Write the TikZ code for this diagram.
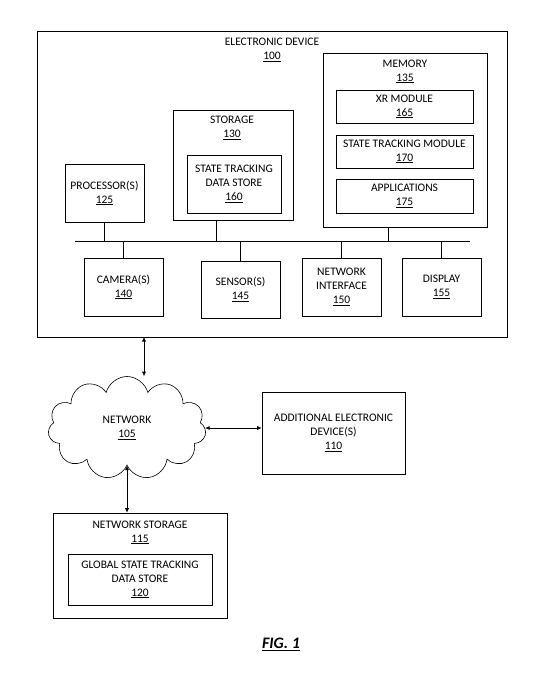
\documentclass[tikz,border=0pt]{standalone}
\usepackage{fontspec}
\setmainfont{Carlito}
\usetikzlibrary{shapes.symbols,arrows.meta}

\tikzset{
  blk/.style={draw, line width=0.6pt, align=center, inner sep=1pt},
  lbl/.style={align=center, inner sep=1pt},
  link/.style={line width=0.6pt},
  twoway/.style={line width=0.6pt, {Latex[length=4.5pt,width=4pt]}-{Latex[length=4.5pt,width=4pt]}}
}

\begin{document}
\begin{tikzpicture}[x=1pt,y=-1pt,font=\fontsize{11.5}{14}\selectfont]
\useasboundingbox (0,0) rectangle (545,677);

\node[blk, minimum width=470, minimum height=306] (dev) at (272,184) {};
\node[lbl] (devLbl) at (272,50) {ELECTRONIC DEVICE\\\underline{100}};

\node[blk, minimum width=79, minimum height=58] (proc) at (104.5,193) {PROCESSOR(S)\\\underline{125}};

\node[blk, minimum width=120, minimum height=110] (stor) at (233,165) {};
\node[lbl] (storLbl) at (232,128) {STORAGE\\\underline{130}};
\node[blk, minimum width=94, minimum height=58] (stds) at (234,184) {STATE TRACKING\\DATA STORE\\\underline{160}};

\node[blk, minimum width=164, minimum height=174] (mem) at (405,140) {};
\node[lbl] (memLbl) at (405,71.5) {MEMORY\\\underline{135}};
\node[blk, minimum width=137, minimum height=33] (xr) at (404.5,106.5) {XR MODULE\\\underline{165}};
\node[blk, minimum width=137, minimum height=33] (stm) at (404.5,151.5) {STATE TRACKING MODULE\\\underline{170}};
\node[blk, minimum width=137, minimum height=34] (apps) at (404.5,196) {APPLICATIONS\\\underline{175}};

\node[blk, minimum width=79, minimum height=58] (cam) at (123.5,287) {CAMERA(S)\\\underline{140}};
\node[blk, minimum width=79, minimum height=57] (sens) at (240.5,289.5) {SENSOR(S)\\\underline{145}};
\node[blk, minimum width=79, minimum height=58] (netif) at (341.5,287) {NETWORK\\INTERFACE\\\underline{150}};
\node[blk, minimum width=79, minimum height=58] (disp) at (441.5,287) {DISPLAY\\\underline{155}};

% bus
\coordinate (busL) at (75,241);
\coordinate (busR) at (470,241);
\coordinate (tapStor) at (216,241);
\coordinate (tapMem) at (388,241);
\draw[link] (busL) -- (busR);
\draw[link] (proc.south) -- (proc.south |- busL);
\draw[link] (tapStor) -- (tapStor |- stor.south);
\draw[link] (tapMem) -- (tapMem |- mem.south);
\draw[link] (cam.north) -- (cam.north |- busL);
\draw[link] (sens.north) -- (sens.north |- busL);
\draw[link] (netif.north) -- (netif.north |- busL);
\draw[link] (disp.north) -- (disp.north |- busL);

\node[cloud, draw, line width=0.6pt, cloud puffs=11, aspect=1.5, minimum width=158, minimum height=103, align=center] (net) at (127,428) {NETWORK\\\underline{105}};

\node[blk, minimum width=143, minimum height=82] (addl) at (333.5,433) {ADDITIONAL ELECTRONIC\\DEVICE(S)\\\underline{110}};

\node[blk, minimum width=174, minimum height=105] (nst) at (140,565.5) {};
\node[lbl] (nstLbl) at (140,532.5) {NETWORK STORAGE\\\underline{115}};
\node[blk, minimum width=144, minimum height=51] (gstds) at (140,579.5) {GLOBAL STATE TRACKING\\DATA STORE\\\underline{120}};

\coordinate (devNet) at (144,337);
\draw[twoway] (devNet) -- (devNet |- net.north);
\draw[twoway] (net.east) -- (net.east -| addl.west);
\draw[twoway] (net.south) -- (net.south |- nst.north);

\node[font=\fontsize{16}{18}\selectfont\bfseries\itshape] (fig) at (281,644) {\underline{FIG. 1}};
\end{tikzpicture}
\end{document}
